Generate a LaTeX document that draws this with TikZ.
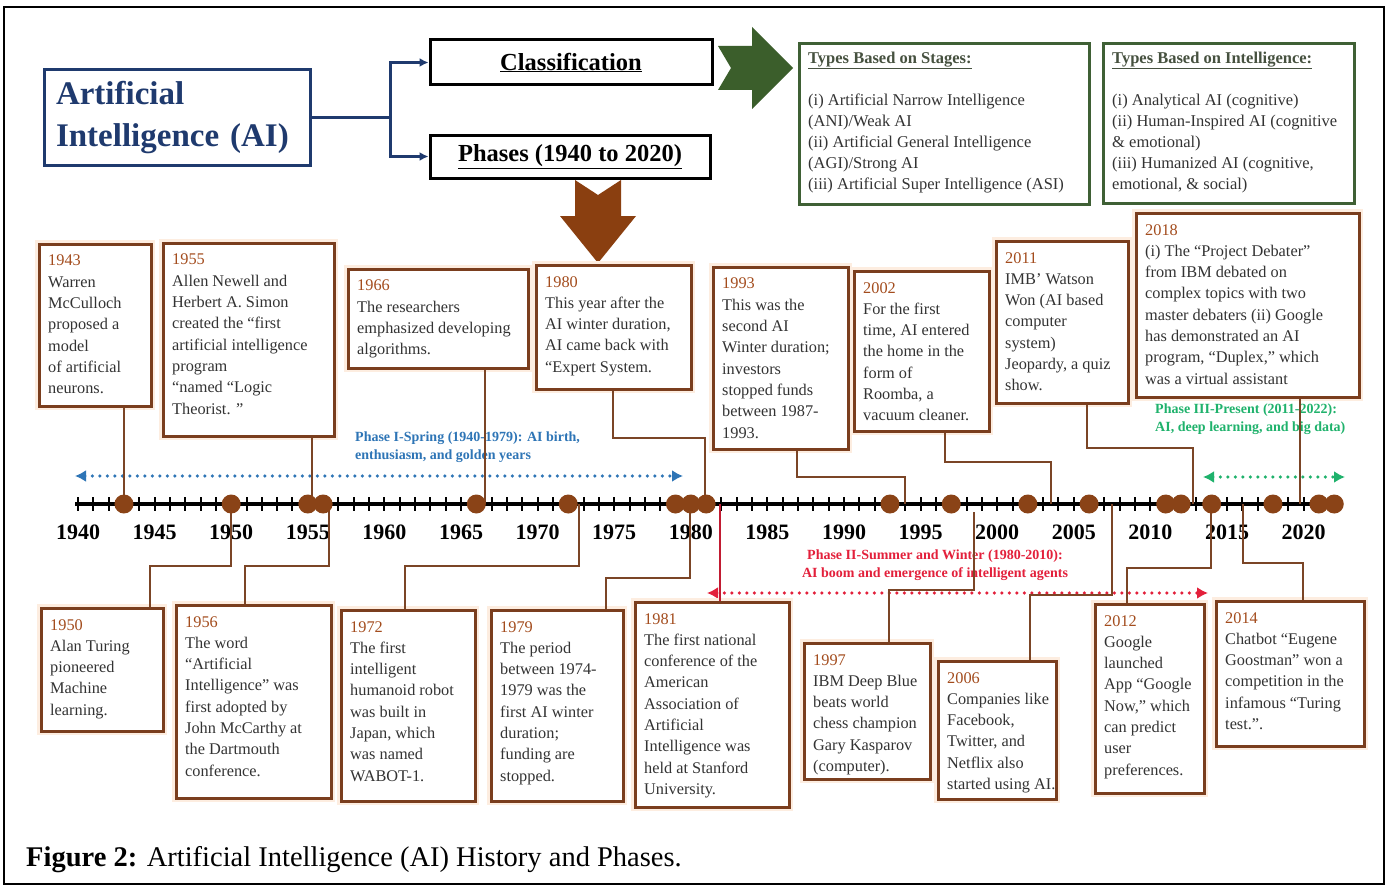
\documentclass[tikz,border=0pt]{standalone}
\usepackage{fontspec}
\setmainfont{Liberation Serif}
\usetikzlibrary{arrows.meta}

\definecolor{navy}{HTML}{1F3A6E}
\definecolor{leaf}{HTML}{3B5E2B}
\definecolor{leafline}{HTML}{3F6035}
\definecolor{rust}{HTML}{8A3F10}
\definecolor{evbrown}{HTML}{7A3E1E}
\definecolor{glow}{HTML}{FDEDE0}
\definecolor{yearc}{HTML}{A34C1D}
\definecolor{bodytext}{HTML}{333333}
\definecolor{connc}{HTML}{7B4526}
\definecolor{dotc}{HTML}{8A4317}
\definecolor{phaseone}{HTML}{2E75B6}
\definecolor{phasetwo}{HTML}{E3203B}
\definecolor{phasethree}{HTML}{1FB26C}
\definecolor{headc}{HTML}{46513F}

\newcommand{\evfont}{\fontsize{16.3}{21.3}\selectfont}
\newcommand{\evyear}[1]{\textcolor{yearc}{#1}}

\tikzset{
  evbox/.style={draw=evbrown, line width=2.6pt, fill=white, anchor=north west,
    inner sep=0pt, preaction={draw=glow, line width=8pt}},
  evtext/.style={anchor=north west, inner sep=0pt, align=left, text=bodytext, font=\evfont},
  conn/.style={draw=connc, line width=2.6pt},
  redline/.style={draw=phasetwo!85!black, line width=1.8pt},
  dot/.style={circle, fill=dotc, minimum size=19pt, inner sep=0pt},
  yearlab/.style={anchor=base, inner sep=0pt, font=\bfseries\fontsize{22}{26}\selectfont},
  phasearrow/.style={line width=3.6pt, dash pattern=on 0pt off 7.5pt, line cap=round,
    {Latex[length=11pt,width=12pt]}-{Latex[length=11pt,width=12pt]}},
  phaselab/.style={inner sep=0pt, font=\bfseries\fontsize{14}{18}\selectfont},
  navycon/.style={draw=navy, line width=3pt},
  headbox/.style={draw=black, line width=3pt, font=\bfseries\fontsize{24.5}{28}\selectfont},
  typebox/.style={draw=leafline, line width=3pt, anchor=north west, inner sep=0pt},
  typetext/.style={anchor=north west, inner sep=0pt, align=left, text=bodytext,
    font=\fontsize{16.5}{21}\selectfont},
}

% one timeline event: name, left, top, width, height, text
\newcommand{\evt}[6]{%
  \node[evbox, minimum width=#4pt, minimum height=#5pt] (#1) at (#2,#3) {};
  \node[evtext] (#1t) at ([shift={(10,12)}]#1.north west) {#6};
}

\begin{document}
\begin{tikzpicture}[x=1pt, y=-1pt]
\useasboundingbox (0,0) rectangle (1388,888);
\fill[white] (0,0) rectangle (1388,888);
\draw[line width=2pt] (4,7) rectangle (1384,884);

% ---------- heading part ----------
\node[draw=navy, line width=3pt, minimum width=266pt, minimum height=95pt,
      text width=242pt, inner xsep=12pt, align=left, text=navy,
      font=\bfseries\fontsize{33}{42}\selectfont] (ai) at (177,117.5)
      {Artificial\\Intelligence (AI)};
\node[headbox, minimum width=282pt, minimum height=45pt] (cls) at (571,62.5) {\underline{Classification}};
\node[headbox, minimum width=280pt, minimum height=43pt] (phs) at (570,156.5) {\underline{Phases (1940 to 2020)}};

\coordinate (fork) at (390,117.5);
\draw[navycon] (ai.east) -- (fork);
\draw[navycon, -{Latex[length=9pt,width=9pt]}] (fork) |- (cls.west);
\draw[navycon, -{Latex[length=9pt,width=9pt]}] (fork) |- (phs.west);

% block arrows
\fill[leaf] (718,46) -- (752,46) -- (752,27) -- (793,68) -- (752,109) -- (752,90)
  -- (718,90) -- (731,68) -- cycle;
\fill[rust] (575,180) -- (598,195) -- (621,180) -- (621,216) -- (636,216) -- (598,263)
  -- (560,216) -- (575,216) -- cycle;

% classification boxes
\node[typebox, minimum width=290pt, minimum height=161pt] (stages) at (798,42) {};
\node[typetext] (stagest) at (808,51.5)
  {\textbf{\textcolor{headc}{\underline{Types Based on Stages:}}}\\[21pt]
   (i) Artificial Narrow Intelligence\\
   (ANI)/Weak AI\\
   (ii) Artificial General Intelligence\\
   (AGI)/Strong AI\\
   (iii) Artificial Super Intelligence (ASI)};
\node[typebox, minimum width=251pt, minimum height=160pt] (intel) at (1102,42) {};
\node[typetext] (intelt) at (1112,51.5)
  {\textbf{\textcolor{headc}{\underline{Types Based on Intelligence:}}}\\[21pt]
   (i) Analytical AI (cognitive)\\
   (ii) Human-Inspired AI (cognitive\\
   \& emotional)\\
   (iii) Humanized AI (cognitive,\\
   emotional, \& social)};

% ---------- phase markers ----------
\coordinate (p1a) at (75,476);
\coordinate (p1b) at (683,476);
\coordinate (p2a) at (707,593);
\coordinate (p2b) at (1208,593);
\coordinate (p3a) at (1203,477);
\coordinate (p3b) at (1345,477);
\draw[phasearrow, phaseone] (p1a) -- (p1b);
\draw[phasearrow, phasetwo] (p2a) -- (p2b);
\draw[phasearrow, phasethree] (p3a) -- (p3b);
\node[phaselab, text=phaseone, anchor=north west, align=left] (ph1) at (355,432)
  {Phase I-Spring (1940-1979): AI birth,\\enthusiasm, and golden years};
\node[phaselab, text=phasetwo, anchor=north, align=center] (ph2) at (935,549.5)
  {Phase II-Summer and Winter (1980-2010):\\AI boom and emergence of intelligent agents};
\node[phaselab, text=phasethree, anchor=north west, align=left] (ph3) at (1155,403.5)
  {Phase III-Present (2011-2022):\\AI, deep learning, and big data)};

% ---------- time axis ----------
\coordinate (ax0) at (75,504);
\coordinate (ax1) at (1340,504);
\draw[line width=4pt] (ax0) -- (ax1);
\foreach \yr in {1940,...,2022}
  \draw[line width=2pt] ({78+(\yr-1940)*15.32},497) -- ({78+(\yr-1940)*15.32},511);
\foreach \yr in {1940,1945,...,2020}
  \node[yearlab] (y\yr) at ({78+(\yr-1940)*15.32},539.5) {\yr};
\foreach \yr in {1943,1950,1955,1956,1966,1972,1979,1980,1981,1993,1997,2002,2006,2011,2012,2014,2018,2021,2022}
  \coordinate (k\yr) at ({78+(\yr-1940)*15.32},504);

% ---------- events above the axis ----------
\evt{b1943}{38}{243}{112}{162}{\evyear{1943}\\Warren\\McCulloch\\proposed a\\model\\of artificial\\neurons.}
\evt{b1955}{162}{242}{171}{193}{\evyear{1955}\\Allen Newell and\\Herbert A. Simon\\created the “first\\artificial intelligence\\program\\“named “Logic\\Theorist. ”}
\evt{b1966}{347}{268}{180}{99}{\evyear{1966}\\The researchers\\emphasized developing\\algorithms.}
\evt{b1980}{535}{264}{155}{124}{\evyear{1980}\\This year after the\\AI winter duration,\\AI came back with\\“Expert System.}
\evt{b1993}{712}{266}{135}{182}{\evyear{1993}\\This was the\\second AI\\Winter duration;\\investors\\stopped funds\\between 1987-\\1993.}
\evt{b2002}{853}{270}{135}{160}{\evyear{2002}\\For the first\\time, AI entered\\the home in the\\form of\\Roomba, a\\vacuum cleaner.}
\evt{b2011}{995}{240}{132}{162}{\evyear{2011}\\IMB’ Watson\\Won (AI based\\computer\\system)\\Jeopardy, a quiz\\show.}
\evt{b2018}{1135}{212}{223}{184}{\evyear{2018}\\(i) The “Project Debater”\\from IBM debated on\\complex topics with two\\master debaters (ii) Google\\has demonstrated an AI\\program, “Duplex,” which\\was a virtual assistant}

% ---------- events below the axis ----------
\evt{b1950}{40}{607}{122}{123}{\evyear{1950}\\Alan Turing\\pioneered\\Machine\\learning.}
\evt{b1956}{175}{604}{155}{193}{\evyear{1956}\\The word\\“Artificial\\Intelligence” was\\first adopted by\\John McCarthy at\\the Dartmouth\\conference.}
\evt{b1972}{340}{609}{134}{191}{\evyear{1972}\\The first\\intelligent\\humanoid robot\\was built in\\Japan, which\\was named\\WABOT-1.}
\evt{b1979}{490}{609}{132}{191}{\evyear{1979}\\The period\\between 1974-\\1979 was the\\first AI winter\\duration;\\funding are\\stopped.}
\evt{b1981}{634}{601}{154}{205}{\evyear{1981}\\The first national\\conference of the\\American\\Association of\\Artificial\\Intelligence was\\held at Stanford\\University.}
\evt{b1997}{803}{642}{126}{136}{\evyear{1997}\\IBM Deep Blue\\beats world\\chess champion\\Gary Kasparov\\(computer).}
\evt{b2006}{937}{660}{118}{138}{\evyear{2006}\\Companies like\\Facebook,\\Twitter, and\\Netflix also\\started using AI.}
\evt{b2012}{1094}{603}{109}{189}{\evyear{2012}\\Google\\launched\\App “Google\\Now,” which\\can predict\\user\\preferences.}
\evt{b2014}{1215}{600}{148}{145}{\evyear{2014}\\Chatbot “Eugene\\Goostman” won a\\competition in the\\infamous “Turing\\test.”.}

% ---------- connectors ----------
\draw[conn] (b1943.south -| k1943) -- (k1943);
\draw[conn] (b1955.south -| 312,0) -- (k1955 -| 312,0);
\draw[conn] (b1966.south -| 485,0) -- (k1966 -| 485,0);
\draw[conn] (b1980.south -| 613,0) |- (705,438) -- (k1981 -| 705,0);
\draw[conn] (b1993.south -| 797,0) |- (905,477) -- (k1993 -| 905,0);
\draw[conn] (b2002.south -| 945,0) |- (1051,462) -- (k2002 -| 1051,0);
\draw[conn] (b2011.south -| 1087,0) |- (1193,448) -- (k2011 -| 1193,0);
\draw[conn] (b2018.south -| 1300,0) -- (k2018 -| 1300,0);

\draw[conn] (b1950.north -| 150,0) |- (231,566) -- (k1950 -| 231,0);
\draw[conn] (b1956.north -| 245,0) |- (329,566) -- (k1956 -| 329,0);
\draw[conn] (b1972.north -| 405,0) |- (579,566) -- (k1972 -| 579,0);
\draw[conn] (b1979.north -| 606,0) |- (690,578) -- (k1980 -| 690,0);
\draw[redline] (b1981.north -| 720,0) -- (k1981 -| 720,0);
\draw[conn, shorten >=8pt] (b1997.north -| 889,0) |- (974,590) -- (k1997 -| 974,0);
\draw[conn] (b2006.north -| 1030,0) |- (1112,595) -- (k2006 -| 1112,0);
\draw[conn] (b2012.north -| 1127,0) |- (1211,568) -- (k2014 -| 1211,0);
\draw[conn] (b2014.north -| 1303,0) |- (1243,563) -- (k2014 -| 1243,0);

% ---------- event dots ----------
\foreach \yr in {1943,1950,1955,1956,1966,1972,1979,1980,1981,1993,1997,2002,2006,2011,2012,2014,2018,2021,2022}
  \node[dot] (d\yr) at (k\yr) {};

% ---------- caption ----------
\node[anchor=base west, inner sep=0pt, font=\fontsize{28.5}{34}\selectfont] (cap) at (26,866)
  {\textbf{Figure 2:} Artificial Intelligence (AI) History and Phases.};
\end{tikzpicture}
\end{document}
